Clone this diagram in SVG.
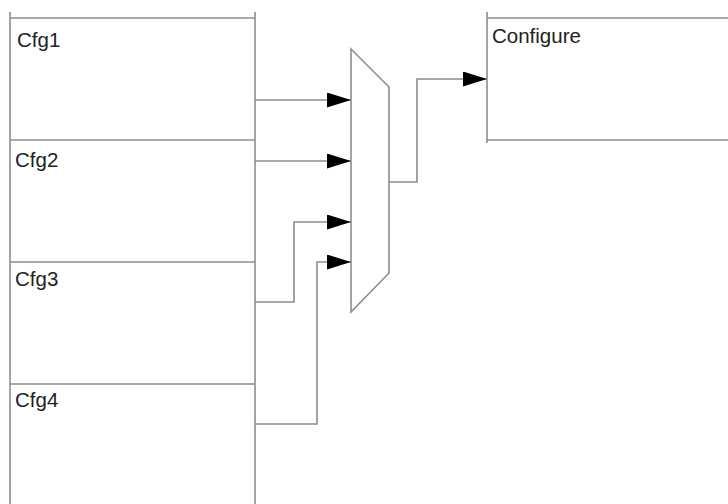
<svg xmlns="http://www.w3.org/2000/svg" width="728" height="504" viewBox="0 0 728 504">
<style>
.ln{fill:none;stroke:#8c8c8c;stroke-width:1.6}
.box{fill:#fff;stroke:#8c8c8c;stroke-width:1.6}
.t{font-family:"Liberation Sans",Arial,sans-serif;font-size:20.5px;fill:#222}
</style>
<defs>
<marker id="ah" markerUnits="userSpaceOnUse" markerWidth="26" markerHeight="16" refX="24" refY="7.5" orient="auto">
<path d="M0,0 L24,7.5 L0,15 Z" fill="#000"/>
</marker>
</defs>
<rect width="728" height="504" fill="#fff"/>
<g id="cfg-stack">
<line class="ln" x1="10" y1="12" x2="10" y2="504"/>
<line class="ln" x1="255" y1="12" x2="255" y2="504"/>
</g>
<g id="cfg1">
<line class="ln" x1="10" y1="18" x2="255" y2="18"/>
<text class="t" x="17" y="47">Cfg1</text>
</g>
<g id="cfg2">
<line class="ln" x1="10" y1="140" x2="255" y2="140"/>
<text class="t" x="15" y="167">Cfg2</text>
</g>
<g id="cfg3">
<line class="ln" x1="10" y1="262" x2="255" y2="262"/>
<text class="t" x="15" y="286">Cfg3</text>
</g>
<g id="cfg4">
<line class="ln" x1="10" y1="384" x2="255" y2="384"/>
<text class="t" x="15" y="407">Cfg4</text>
</g>
<g id="mux">
<path class="box" d="M351,49 L389,87 L389,273 L351,312 Z"/>
</g>
<g id="configure">
<line class="ln" x1="487" y1="12" x2="487" y2="143"/>
<line class="ln" x1="487" y1="18" x2="728" y2="18"/>
<line class="ln" x1="487" y1="140" x2="728" y2="140"/>
<text class="t" x="492" y="43">Configure</text>
</g>
<g id="connectors">
<polyline class="ln" points="255,100 351,100" marker-end="url(#ah)"/>
<polyline class="ln" points="255,161 351,161" marker-end="url(#ah)"/>
<polyline class="ln" points="255,302 294,302 294,222 351,222" marker-end="url(#ah)"/>
<polyline class="ln" points="255,424 317,424 317,262 351,262" marker-end="url(#ah)"/>
<polyline class="ln" points="389,182 417,182 417,79 487,79" marker-end="url(#ah)"/>
</g>
</svg>
